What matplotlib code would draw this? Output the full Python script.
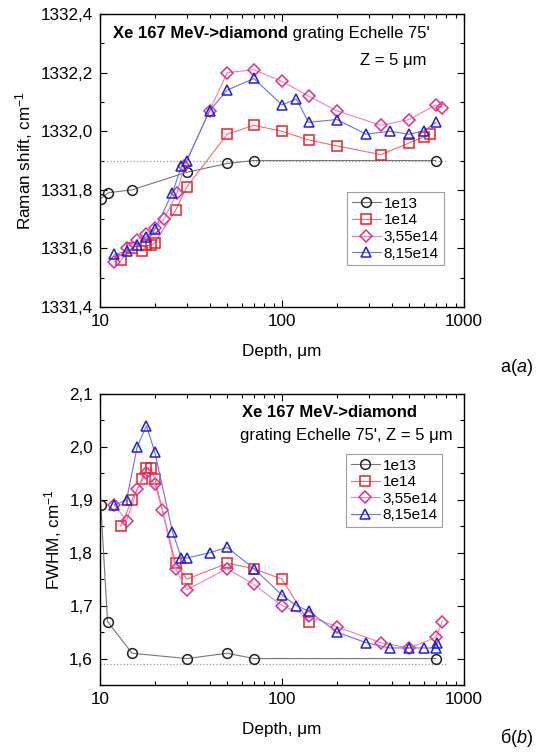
import numpy as np
import matplotlib
matplotlib.use('Agg')
import matplotlib.pyplot as plt
from matplotlib.ticker import MultipleLocator, FuncFormatter, LogLocator, NullFormatter

plt.rcParams['font.family'] = ['Liberation Sans', 'DejaVu Sans']
plt.rcParams['mathtext.fontset'] = 'custom'
plt.rcParams['mathtext.rm'] = 'Liberation Sans'
plt.rcParams['mathtext.it'] = 'Liberation Sans:italic'

# ---- data: Raman shift (top) ----
labels = ['1e13', '1e14', '3,55e14', '8,15e14']

raman_x_1e13 = [10.1, 11.1, 15, 30, 50, 70, 700]
raman_y_1e13 = [1331.77, 1331.79, 1331.80, 1331.86, 1331.89, 1331.90, 1331.90]

raman_x_1e14 = [13, 15, 17, 18, 19, 20, 26, 30, 50, 70, 100, 140, 200, 350, 500, 600, 650]
raman_y_1e14 = [1331.56, 1331.60, 1331.59, 1331.61, 1331.61, 1331.62, 1331.73, 1331.81,
                1331.99, 1332.02, 1332.00, 1331.97, 1331.95, 1331.92, 1331.96, 1331.98, 1331.99]

raman_x_355 = [12, 14, 16, 18, 20, 22.5, 26.5, 29, 40, 50, 70, 100, 140, 200, 350, 500, 700, 760]
raman_y_355 = [1331.555, 1331.60, 1331.63, 1331.65, 1331.67, 1331.70, 1331.79, 1331.88, 1332.07,
               1332.20, 1332.21, 1332.17, 1332.12, 1332.07, 1332.02, 1332.04, 1332.09, 1332.08]

raman_x_815 = [12, 14, 16, 18, 20, 25, 28, 30, 40, 50, 70, 100, 120, 140, 200, 290, 390, 500, 600, 700]
raman_y_815 = [1331.58, 1331.59, 1331.61, 1331.64, 1331.665, 1331.79, 1331.88, 1331.90, 1332.07,
               1332.14, 1332.18, 1332.09, 1332.11, 1332.03, 1332.04, 1331.99, 1332.00, 1331.99,
               1332.00, 1332.03]

raman_ref = 1331.90

# ---- data: FWHM (bottom) ----
fwhm_x_1e13 = [10.1, 11, 15, 30, 50, 70, 700]
fwhm_y_1e13 = [1.89, 1.67, 1.61, 1.60, 1.61, 1.60, 1.60]

fwhm_x_1e14 = [13, 15, 17, 18, 19, 20, 26, 30, 50, 70, 100, 140]
fwhm_y_1e14 = [1.85, 1.90, 1.94, 1.96, 1.96, 1.94, 1.78, 1.75, 1.78, 1.77, 1.75, 1.67]

fwhm_x_355 = [12, 14, 16, 18, 20, 22, 26, 30, 50, 70, 100, 140, 200, 350, 500, 700, 760]
fwhm_y_355 = [1.89, 1.86, 1.92, 1.95, 1.93, 1.88, 1.77, 1.73, 1.77, 1.74, 1.70, 1.68, 1.66,
              1.63, 1.62, 1.64, 1.67]

fwhm_x_815 = [12, 14, 16, 18, 20, 25, 28, 30, 40, 50, 70, 100, 120, 140, 200, 290, 390, 500,
              600, 700, 710]
fwhm_y_815 = [1.89, 1.90, 2.00, 2.04, 1.99, 1.84, 1.79, 1.79, 1.80, 1.81, 1.77, 1.72, 1.70,
              1.69, 1.65, 1.63, 1.62, 1.62, 1.62, 1.62, 1.63]

fwhm_ref = 1.59

# marker / colour styles per series
styles = [
    dict(marker='o', mec='#222222', color='#777777'),
    dict(marker='s', mec='#e8202a', color='#ee7070'),
    dict(marker='D', mec='#e0308a', color='#f080b8'),
    dict(marker='^', mec='#2020d8', color='#7070e8'),
]
msize = [7, 6.5, 6, 7.5]

fig = plt.figure(figsize=(5.36, 7.54), dpi=100)
ax1 = fig.add_axes([0.1866, 0.5928, 0.679, 0.3886])
ax2 = fig.add_axes([0.1866, 0.0915, 0.679, 0.386])

FS = 12.3
FT = 12

comma = lambda fmt: FuncFormatter(lambda v, p: (fmt % v).replace('.', ','))


def draw(ax, xs, ys, ref):
    ax.plot([10, 800], [ref, ref], ls=':', color='#999999', lw=0.9)
    for i in range(4):
        st = styles[i]
        ax.plot(xs[i], ys[i], marker=st['marker'], mfc='none', mec=st['mec'], mew=1.1,
                ms=msize[i], color=st['color'], lw=0.8, label=labels[i])
    ax.set_xscale('log')
    ax.set_xlim(10, 1000)
    ax.xaxis.set_major_locator(LogLocator(base=10, numticks=5))
    ax.xaxis.set_minor_locator(LogLocator(base=10, subs=np.arange(2, 10), numticks=20))
    ax.xaxis.set_minor_formatter(NullFormatter())
    ax.xaxis.set_major_formatter(FuncFormatter(lambda v, p: '%d' % v))
    ax.tick_params(which='both', direction='in', top=True, right=True, labelsize=FS, width=0.8)
    ax.tick_params(which='major', length=5, pad=5)
    ax.tick_params(which='minor', length=3)
    for s in ax.spines.values():
        s.set_linewidth(1.0)
    ax.set_xlabel('Depth, \u03bcm', fontsize=FS, labelpad=11)


def legend(ax, anchor):
    leg = ax.legend(loc='upper left', bbox_to_anchor=anchor, fontsize=11, fancybox=False,
                    edgecolor='#888888', handlelength=1.9, labelspacing=0.17, borderpad=0.3,
                    handletextpad=0.2, borderaxespad=0)
    leg.get_frame().set_linewidth(0.8)


draw(ax1, [raman_x_1e13, raman_x_1e14, raman_x_355, raman_x_815],
     [raman_y_1e13, raman_y_1e14, raman_y_355, raman_y_815], raman_ref)
ax1.set_ylim(1331.4, 1332.4)
ax1.yaxis.set_major_locator(MultipleLocator(0.2))
ax1.yaxis.set_minor_locator(MultipleLocator(0.1))
ax1.yaxis.set_major_formatter(comma('%.1f'))
ax1.set_ylabel('Raman shift, cm$^{-1}$', fontsize=FS)
t1 = ax1.text(0.036, 0.935, 'Xe 167 MeV->diamond', transform=ax1.transAxes, fontsize=FT,
              fontweight='bold', va='center', ha='left')
ax1.annotate(" grating Echelle 75'", xy=(1, 0), xycoords=t1, va='bottom', ha='left', fontsize=FT)
ax1.text(0.898, 0.843, 'Z = 5 \u03bcm', transform=ax1.transAxes, fontsize=FT, va='center', ha='right')
legend(ax1, (0.679, 0.392))

draw(ax2, [fwhm_x_1e13, fwhm_x_1e14, fwhm_x_355, fwhm_x_815],
     [fwhm_y_1e13, fwhm_y_1e14, fwhm_y_355, fwhm_y_815], fwhm_ref)
ax2.set_ylim(1.55, 2.1)
ax2.yaxis.set_major_locator(MultipleLocator(0.1))
ax2.yaxis.set_minor_locator(MultipleLocator(0.05))
ax2.yaxis.set_major_formatter(FuncFormatter(
    lambda v, p: ('%.1f' % v).replace('.', ',') if abs(v * 10 - round(v * 10)) < 1e-6 else ''))
ax2.set_ylabel('FWHM, cm$^{-1}$', fontsize=FS)
ax2.text(0.39, 0.935, 'Xe 167 MeV->diamond', transform=ax2.transAxes, fontsize=FT,
         fontweight='bold', va='center', ha='left')
ax2.text(0.385, 0.859, "grating Echelle 75', Z = 5 \u03bcm", transform=ax2.transAxes,
         fontsize=FT, va='center', ha='left')
legend(ax2, (0.676, 0.794))

fig.text(0.994, 0.512, '\u0430($\\it{a}$)', fontsize=13, ha='right', va='center')
fig.text(0.994, 0.006, '\u0431($\\it{b}$)', fontsize=13, ha='right', va='bottom')

fig.savefig('out.png', dpi=100)
